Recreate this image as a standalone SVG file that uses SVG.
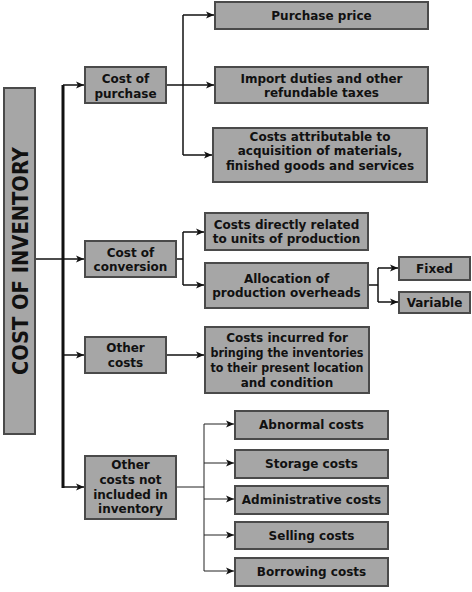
<svg xmlns="http://www.w3.org/2000/svg" width="472" height="592" viewBox="0 0 472 592">
<defs>
<style>
.box{fill:#a6a6a6;stroke:#4a4a4a;stroke-width:2}
.t{font-family:"DejaVu Sans",sans-serif;font-weight:bold;font-size:12px;fill:#111;text-anchor:middle}
.title{font-family:"DejaVu Sans",sans-serif;font-weight:bold;font-size:22px;fill:#111;text-anchor:middle}
.c{fill:none;stroke:#111;stroke-width:1.5}
.thin{fill:none;stroke:#222;stroke-width:1}
</style>
<marker id="ah" markerUnits="userSpaceOnUse" markerWidth="9" markerHeight="8" refX="8" refY="4" orient="auto">
<path d="M0,0.5 L8,4 L0,7.5 L2,4 Z" fill="#111"/>
</marker>
</defs>
<rect width="472" height="592" fill="#fff"/>
<g id="connectors">
<line x1="35" y1="259" x2="63" y2="259" class="c" stroke-width="2"/>
<line x1="63" y1="85" x2="63" y2="488" stroke="#111" stroke-width="3"/>
<path class="c" d="M63,85 H84" marker-end="url(#ah)"/>
<path class="c" d="M63,259 H84" marker-end="url(#ah)"/>
<path class="c" d="M63,355 H84" marker-end="url(#ah)"/>
<path class="c" d="M63,487 H84" marker-end="url(#ah)"/>
<path class="c" d="M166,85 H183"/>
<path class="c" d="M183,15 V155"/>
<path class="c" d="M183,15 H214" marker-end="url(#ah)"/>
<path class="c" d="M183,85 H214" marker-end="url(#ah)"/>
<path class="c" d="M183,155 H212" marker-end="url(#ah)"/>
<path class="c" d="M176,259 H183"/>
<path class="c" d="M183,232 V285"/>
<path class="c" d="M183,232 H204" marker-end="url(#ah)"/>
<path class="c" d="M183,285 H204" marker-end="url(#ah)"/>
<path class="c" d="M368,285 H378"/>
<path class="c" d="M378,268 V302"/>
<path class="c" d="M378,268 H398" marker-end="url(#ah)"/>
<path class="c" d="M378,302 H398" marker-end="url(#ah)"/>
<path class="c" d="M166,355 H204" marker-end="url(#ah)"/>
<path class="thin" d="M176,487 H204"/>
<path class="thin" d="M204,424 V571"/>
<path class="thin" d="M204,424 H234" marker-end="url(#ah)"/>
<path class="thin" d="M204,463 H234" marker-end="url(#ah)"/>
<path class="thin" d="M204,499 H234" marker-end="url(#ah)"/>
<path class="thin" d="M204,535 H234" marker-end="url(#ah)"/>
<path class="thin" d="M204,571 H234" marker-end="url(#ah)"/>
</g>
<g id="cost-of-inventory">
<rect class="box" x="4" y="88" width="31" height="346"/>
<text class="title" transform="translate(28,261) rotate(-90)" x="0" y="0" textLength="228" lengthAdjust="spacingAndGlyphs">COST OF INVENTORY</text>
</g>
<g id="cost-of-purchase">
<rect class="box" x="85" y="67" width="81" height="36"/>
<text class="t" x="125.5" y="83">Cost of</text>
<text class="t" x="125.5" y="97.5">purchase</text>
</g>
<g id="cost-of-conversion">
<rect class="box" x="85" y="241" width="91" height="36"/>
<text class="t" x="130.5" y="256.5">Cost of</text>
<text class="t" x="130.5" y="271">conversion</text>
</g>
<g id="other-costs">
<rect class="box" x="85" y="337" width="81" height="36"/>
<text class="t" x="125.5" y="352">Other</text>
<text class="t" x="125.5" y="367">costs</text>
</g>
<g id="not-included">
<rect class="box" x="85" y="456" width="91" height="63"/>
<text class="t" x="130.5" y="469">Other</text>
<text class="t" x="130.5" y="484">costs not</text>
<text class="t" x="130.5" y="498.5">included in</text>
<text class="t" x="130.5" y="513">inventory</text>
</g>
<g id="purchase-price">
<rect class="box" x="215" y="2" width="213" height="27"/>
<text class="t" x="321.5" y="19.5">Purchase price</text>
</g>
<g id="import-duties">
<rect class="box" x="215" y="67" width="213" height="36"/>
<text class="t" x="321.5" y="82.5">Import duties and other</text>
<text class="t" x="321.5" y="97">refundable taxes</text>
</g>
<g id="costs-attributable">
<rect class="box" x="213" y="128" width="214" height="54"/>
<text class="t" x="320" y="140.5">Costs attributable to</text>
<text class="t" x="320" y="155">acquisition of materials,</text>
<text class="t" x="320" y="169.5">finished goods and services</text>
</g>
<g id="costs-directly">
<rect class="box" x="205" y="213" width="163" height="37"/>
<text class="t" x="286.5" y="228.5">Costs directly related</text>
<text class="t" x="286.5" y="243">to units of production</text>
</g>
<g id="allocation">
<rect class="box" x="205" y="263" width="163" height="45"/>
<text class="t" x="286.5" y="282.5">Allocation of</text>
<text class="t" x="286.5" y="297">production overheads</text>
</g>
<g id="fixed">
<rect class="box" x="399" y="257" width="71" height="23"/>
<text class="t" x="434.5" y="273">Fixed</text>
</g>
<g id="variable">
<rect class="box" x="399" y="292" width="71" height="21"/>
<text class="t" x="434.5" y="307">Variable</text>
</g>
<g id="costs-incurred">
<rect class="box" x="205" y="327" width="164" height="66"/>
<text class="t" x="287" y="341.5">Costs incurred for</text>
<text class="t" x="287" y="356.5" textLength="153" lengthAdjust="spacingAndGlyphs">bringing the inventories</text>
<text class="t" x="287" y="371.5" textLength="153" lengthAdjust="spacingAndGlyphs">to their present location</text>
<text class="t" x="287" y="386.5">and condition</text>
</g>
<g id="abnormal">
<rect class="box" x="235" y="411" width="153" height="28"/>
<text class="t" x="311.5" y="429">Abnormal costs</text>
</g>
<g id="storage">
<rect class="box" x="235" y="450" width="153" height="28"/>
<text class="t" x="311.5" y="468">Storage costs</text>
</g>
<g id="administrative">
<rect class="box" x="235" y="486" width="153" height="28"/>
<text class="t" x="311.5" y="504">Administrative costs</text>
</g>
<g id="selling">
<rect class="box" x="235" y="522" width="153" height="27"/>
<text class="t" x="311.5" y="540">Selling costs</text>
</g>
<g id="borrowing">
<rect class="box" x="235" y="558" width="153" height="28"/>
<text class="t" x="311.5" y="576">Borrowing costs</text>
</g>
</svg>
